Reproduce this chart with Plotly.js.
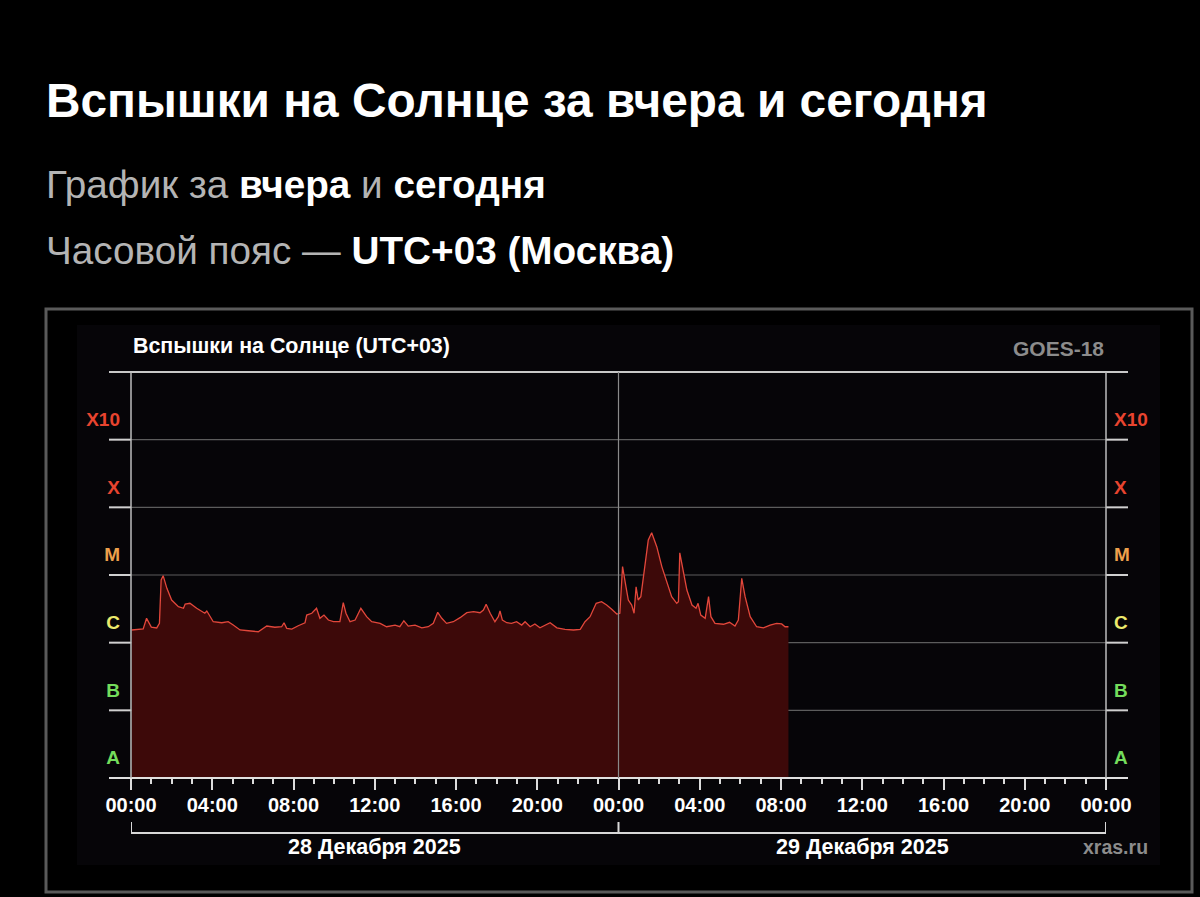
<!DOCTYPE html>
<html>
<head>
<meta charset="utf-8">
<script src="https://cdn.plot.ly/plotly-3.0.1.min.js"></script>
<style>
  html, body { margin: 0; padding: 0; background: #000; }
  #chart { width: 1200px; height: 897px; }
</style>
</head>
<body>
<div id="chart"></div>
<script>
// ---- Data (time in UTC+03, X-ray flux in W/m^2) ----
const times = [
  "2025-12-28 00:02","2025-12-28 00:36","2025-12-28 00:46","2025-12-28 01:00","2025-12-28 01:16",
  "2025-12-28 01:24","2025-12-28 01:29","2025-12-28 01:35","2025-12-28 01:46","2025-12-28 02:00",
  "2025-12-28 02:20","2025-12-28 02:35","2025-12-28 02:40","2025-12-28 02:54","2025-12-28 03:14",
  "2025-12-28 03:38","2025-12-28 03:44","2025-12-28 03:53","2025-12-28 04:03","2025-12-28 04:28",
  "2025-12-28 04:47","2025-12-28 05:02","2025-12-28 05:22","2025-12-28 05:47","2025-12-28 06:16",
  "2025-12-28 06:41","2025-12-28 07:05","2025-12-28 07:25","2025-12-28 07:32","2025-12-28 07:40",
  "2025-12-28 07:55","2025-12-28 08:14","2025-12-28 08:34","2025-12-28 08:39","2025-12-28 08:54",
  "2025-12-28 09:08","2025-12-28 09:18","2025-12-28 09:30","2025-12-28 09:43","2025-12-28 09:58",
  "2025-12-28 10:17","2025-12-28 10:27","2025-12-28 10:35","2025-12-28 10:47","2025-12-28 11:02",
  "2025-12-28 11:19","2025-12-28 11:36","2025-12-28 11:51","2025-12-28 12:16","2025-12-28 12:35",
  "2025-12-28 13:00","2025-12-28 13:14","2025-12-28 13:26","2025-12-28 13:39","2025-12-28 13:59",
  "2025-12-28 14:19","2025-12-28 14:38","2025-12-28 14:53","2025-12-28 15:06","2025-12-28 15:18",
  "2025-12-28 15:32","2025-12-28 15:52","2025-12-28 16:12","2025-12-28 16:32","2025-12-28 16:52",
  "2025-12-28 17:11","2025-12-28 17:21","2025-12-28 17:29","2025-12-28 17:41","2025-12-28 17:55",
  "2025-12-28 18:05","2025-12-28 18:10","2025-12-28 18:17","2025-12-28 18:30","2025-12-28 18:44",
  "2025-12-28 18:59","2025-12-28 19:14","2025-12-28 19:24","2025-12-28 19:39","2025-12-28 19:53",
  "2025-12-28 20:08","2025-12-28 20:38","2025-12-28 20:58","2025-12-28 21:22","2025-12-28 21:47",
  "2025-12-28 22:07","2025-12-28 22:21","2025-12-28 22:36","2025-12-28 22:54","2025-12-28 23:10",
  "2025-12-28 23:25","2025-12-28 23:40","2025-12-28 23:55",
  "2025-12-29 00:04","2025-12-29 00:12","2025-12-29 00:22","2025-12-29 00:29","2025-12-29 00:39",
  "2025-12-29 00:46","2025-12-29 00:52","2025-12-29 00:58","2025-12-29 01:06","2025-12-29 01:19",
  "2025-12-29 01:28","2025-12-29 01:38","2025-12-29 01:53","2025-12-29 02:08","2025-12-29 02:23",
  "2025-12-29 02:37","2025-12-29 02:52","2025-12-29 02:57","2025-12-29 03:01","2025-12-29 03:10",
  "2025-12-29 03:22","2025-12-29 03:37","2025-12-29 03:49","2025-12-29 03:55","2025-12-29 04:03",
  "2025-12-29 04:16","2025-12-29 04:26","2025-12-29 04:33","2025-12-29 04:45","2025-12-29 05:10",
  "2025-12-29 05:28","2025-12-29 05:44","2025-12-29 05:54","2025-12-29 06:04","2025-12-29 06:14",
  "2025-12-29 06:29","2025-12-29 06:48","2025-12-29 07:08","2025-12-29 07:28","2025-12-29 07:47",
  "2025-12-29 08:02","2025-12-29 08:12","2025-12-29 08:22"
];
const flux = [
  1.54e-6,1.60e-6,2.29e-6,1.70e-6,1.65e-6,
  1.93e-6,8.43e-6,9.77e-6,6.35e-6,4.27e-6,
  3.40e-6,3.22e-6,3.72e-6,3.82e-6,3.22e-6,
  2.72e-6,2.94e-6,2.42e-6,2.04e-6,1.97e-6,
  2.04e-6,1.82e-6,1.54e-6,1.50e-6,1.45e-6,
  1.76e-6,1.69e-6,1.72e-6,1.97e-6,1.63e-6,
  1.59e-6,1.78e-6,1.97e-6,2.56e-6,2.72e-6,
  3.22e-6,2.29e-6,2.56e-6,2.16e-6,2.04e-6,
  2.04e-6,3.90e-6,2.72e-6,2.04e-6,2.16e-6,
  3.22e-6,2.42e-6,2.04e-6,1.93e-6,1.72e-6,
  1.82e-6,1.72e-6,2.11e-6,1.76e-6,1.82e-6,
  1.66e-6,1.72e-6,1.93e-6,2.81e-6,2.29e-6,
  1.93e-6,2.04e-6,2.34e-6,2.77e-6,2.87e-6,
  2.77e-6,3.04e-6,3.69e-6,2.72e-6,2.04e-6,
  2.42e-6,2.94e-6,2.16e-6,1.97e-6,1.93e-6,
  2.04e-6,1.82e-6,2.04e-6,1.72e-6,1.89e-6,
  1.66e-6,1.97e-6,1.66e-6,1.57e-6,1.54e-6,
  1.57e-6,2.04e-6,2.42e-6,3.82e-6,4.03e-6,
  3.60e-6,3.11e-6,2.65e-6,
  2.72e-6,1.33e-5,6.71e-6,4.27e-6,3.60e-6,
  2.72e-6,6.71e-6,4.27e-6,4.78e-6,1.67e-5,
  3.29e-5,4.22e-5,2.62e-5,1.33e-5,7.54e-6,
  4.78e-6,3.82e-6,4.03e-6,2.13e-5,1.19e-5,
  6.00e-6,3.60e-6,3.22e-6,3.82e-6,2.56e-6,
  2.29e-6,4.78e-6,2.42e-6,1.93e-6,1.87e-6,
  2.00e-6,1.76e-6,2.16e-6,8.93e-6,4.78e-6,
  2.42e-6,1.72e-6,1.66e-6,1.82e-6,1.93e-6,
  1.89e-6,1.72e-6,1.72e-6
];
const classVals   = [2e-8, 2e-7, 2e-6, 2e-5, 2e-4, 2e-3];
const classNames  = ["A", "B", "C", "M", "X", "X10"];
const classColors = ["#74dd5c", "#74dd5c", "#ecea6c", "#eea04c", "#e8442f", "#e8442f"];
const gridVals    = [1e-7, 1e-6, 1e-5, 1e-4, 1e-3];
const dayLabels   = ["28 Декабря 2025", "29 Декабря 2025"];
const dayCenters  = ["2025-12-28 12:00", "2025-12-29 12:00"];
const xStart = "2025-12-28 00:00", xMid = "2025-12-29 00:00", xEnd = "2025-12-30 00:00";

// ---- Layout helpers ----
const W = 1200, H = 897, L = 131, R = 94, T = 372, B = 119;
const PW = W - L - R, PH = H - T - B;
const px = x => (x - L) / PW;          // page x -> paper x
const py = y => (H - B - y) / PH;      // page y -> paper y
const yMin = -8, yMax = -2;
const logP = v => (Math.log10(v) - yMin) / (yMax - yMin);

const FONT = "Liberation Sans, Arial, Helvetica, sans-serif";
const tickText = classNames.map((n, i) => `<b><span style="color:${classColors[i]}">${n}</span></b>`);

const shapes = [];
// outer frame
shapes.push({type: "rect", xref: "paper", yref: "paper", x0: px(46), x1: px(1192), y0: py(892), y1: py(309),
  line: {color: "#5a5a5a", width: 3}, fillcolor: "#000000", layer: "below"});
// inner panel
shapes.push({type: "rect", xref: "paper", yref: "paper", x0: px(77), x1: px(1160), y0: py(865), y1: py(325),
  line: {width: 0}, fillcolor: "#060508", layer: "below"});
// horizontal grid lines (inside gray, stubs bright)
gridVals.forEach(v => {
  const yy = logP(v);
  shapes.push({type: "line", xref: "paper", yref: "paper", x0: 0, x1: 1, y0: yy, y1: yy,
    line: {color: "#5c5c5c", width: 1.2}, layer: "below"});
  shapes.push({type: "line", xref: "paper", yref: "paper", x0: px(109), x1: 0, y0: yy, y1: yy,
    line: {color: "#d0d0d0", width: 2}});
  shapes.push({type: "line", xref: "paper", yref: "paper", x0: 1, x1: px(1128), y0: yy, y1: yy,
    line: {color: "#d0d0d0", width: 2}});
});
// top line
shapes.push({type: "line", xref: "paper", yref: "paper", x0: px(109), x1: px(1128), y0: 1, y1: 1,
  line: {color: "#c8c8c8", width: 2}});
// bottom axis line
shapes.push({type: "line", xref: "paper", yref: "paper", x0: px(109), x1: px(1128), y0: 0, y1: 0,
  line: {color: "#e0e0e0", width: 2}});
// vertical borders
shapes.push({type: "line", xref: "paper", yref: "paper", x0: 0, x1: 0, y0: 0, y1: 1, line: {color: "#bdbdbd", width: 1.5}});
shapes.push({type: "line", xref: "paper", yref: "paper", x0: 1, x1: 1, y0: 0, y1: 1, line: {color: "#bdbdbd", width: 1.5}});
// midnight line
shapes.push({type: "line", xref: "x", yref: "paper", x0: xMid, x1: xMid, y0: 0, y1: 1, line: {color: "#8a8a8a", width: 1.2}});
// day bracket
const brY = py(833), brTop = py(822);
shapes.push({type: "line", xref: "x", yref: "paper", x0: xStart, x1: xEnd, y0: brY, y1: brY, line: {color: "#d8d8d8", width: 2}});
[xStart, xMid, xEnd].forEach(t => {
  shapes.push({type: "line", xref: "x", yref: "paper", x0: t, x1: t, y0: brY, y1: brTop, line: {color: "#d8d8d8", width: 2}});
});

const annotations = [];
// header texts
annotations.push({xref: "paper", yref: "paper", x: px(44), y: py(100), xanchor: "left", yanchor: "middle",
  text: "<b>Вспышки на Солнце за вчера и сегодня</b>", showarrow: false,
  font: {family: FONT, size: 47.8, color: "#ffffff"}});
annotations.push({xref: "paper", yref: "paper", x: px(44), y: py(185), xanchor: "left", yanchor: "middle",
  text: 'График за <b><span style="color:#ffffff">вчера</span></b> и <b><span style="color:#ffffff">сегодня</span></b>',
  showarrow: false, font: {family: FONT, size: 38.7, color: "#b4b4b4"}});
annotations.push({xref: "paper", yref: "paper", x: px(44), y: py(250), xanchor: "left", yanchor: "middle",
  text: 'Часовой пояс — <b><span style="color:#ffffff">UTC+03 (Москва)</span></b>',
  showarrow: false, font: {family: FONT, size: 38.7, color: "#b4b4b4"}});
// chart title / source
annotations.push({xref: "paper", yref: "paper", x: 0, y: py(346), xanchor: "left", yanchor: "middle",
  text: "<b>Вспышки на Солнце (UTC+03)</b>", showarrow: false,
  font: {family: FONT, size: 21.4, color: "#ffffff"}});
annotations.push({xref: "paper", yref: "paper", x: 1, y: py(349), xanchor: "right", yanchor: "middle",
  text: "<b>GOES-18</b>", showarrow: false, font: {family: FONT, size: 21, color: "#8c8c8c"}});
annotations.push({xref: "paper", yref: "paper", x: px(1150), y: py(847), xanchor: "right", yanchor: "middle",
  text: "<b>xras.ru</b>", showarrow: false, font: {family: FONT, size: 19.5, color: "#8c8c8c"}});
// day labels
dayLabels.forEach((d, i) => {
  annotations.push({xref: "x", yref: "paper", x: dayCenters[i], y: py(847), xanchor: "center", yanchor: "middle",
    text: "<b>" + d + "</b>", showarrow: false, font: {family: FONT, size: 21.5, color: "#ffffff"}});
});

const traces = [
  {x: times, y: flux, type: "scatter", mode: "lines", fill: "tozeroy",
   line: {color: "#e2473b", width: 1.3}, fillcolor: "#3d0909", hoverinfo: "skip", xaxis: "x", yaxis: "y"},
  {x: [times[0]], y: [flux[0]], type: "scatter", mode: "lines", line: {width: 0}, opacity: 0,
   hoverinfo: "skip", xaxis: "x", yaxis: "y2", showlegend: false}
];

const yCommon = {type: "log", range: [yMin, yMax], tickvals: classVals, ticktext: tickText,
  showgrid: false, zeroline: false, showline: false, ticks: "", fixedrange: true,
  tickfont: {family: FONT, size: 19}};

const layout = {
  width: W, height: H,
  margin: {l: L, r: R, t: T, b: B, pad: 0},
  paper_bgcolor: "#000000", plot_bgcolor: "#060508",
  showlegend: false,
  xaxis: {type: "date", range: [xStart, xEnd], tickformat: "%H:%M",
    tick0: xStart, dtick: 4 * 3600000, ticks: "outside", ticklen: 11, tickwidth: 2, tickcolor: "#dcdcdc",
    minor: {ticks: "outside", ticklen: 5, tickwidth: 2, tickcolor: "#dcdcdc", dtick: 3600000, tick0: xStart, showgrid: false},
    showgrid: false, zeroline: false, showline: false, fixedrange: true, ticklabelstandoff: -2,
    tickfont: {family: FONT, size: 20, color: "#ffffff", weight: "bold"}},
  yaxis: Object.assign({}, yCommon, {side: "left", ticklabelstandoff: 10}),
  yaxis2: Object.assign({}, yCommon, {side: "right", overlaying: "y", anchor: "x", ticklabelstandoff: 7}),
  shapes: shapes,
  annotations: annotations
};

Plotly.newPlot("chart", traces, layout, {staticPlot: true, displayModeBar: false});
</script>
</body>
</html>
